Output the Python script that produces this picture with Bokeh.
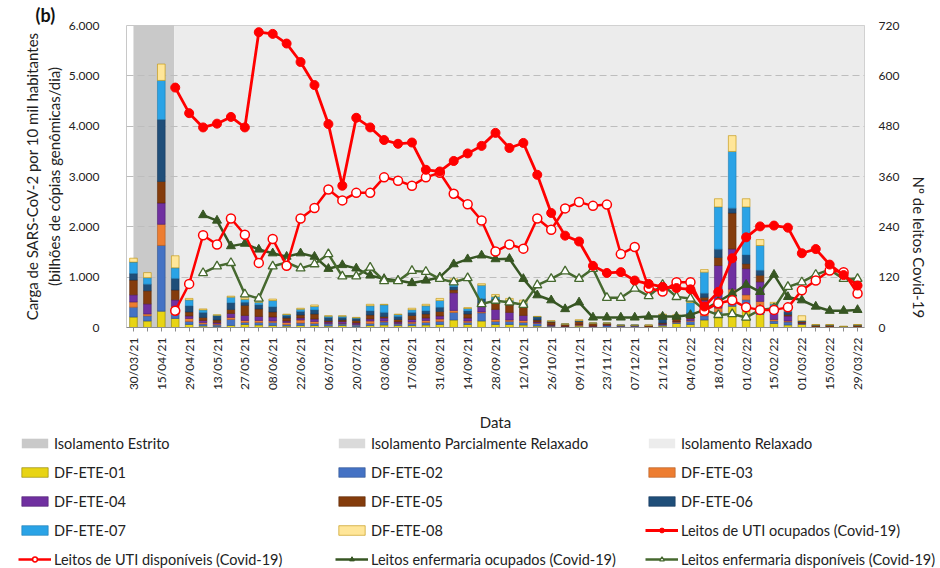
import math
from bokeh.plotting import figure
from bokeh.models import (Range1d, LinearAxis, FixedTicker, Legend, LegendItem,
                          ColumnDataSource)
from bokeh.layouts import column
from bokeh.embed import file_html
from bokeh.resources import INLINE

nan = float("nan")

# ---------------- data ----------------
amostras = list(range(53))  # weekly samples, 30/03/21 ... 29/03/22
rotulos_datas = ["30/03/21", "15/04/21", "29/04/21", "13/05/21", "27/05/21", "08/06/21",
                 "22/06/21", "06/07/21", "20/07/21", "03/08/21", "17/08/21", "31/08/21",
                 "14/09/21", "28/09/21", "12/10/21", "26/10/21", "09/11/21", "23/11/21",
                 "07/12/21", "21/12/21", "04/01/22", "18/01/22", "01/02/22", "15/02/22",
                 "01/03/22", "15/03/22", "29/03/22"]
amostras_rotuladas = amostras[::2]

ete01 = [208, 130, 325, 180, 60, 30, 20, 40, 60, 50, 40, 30, 40, 40, 30, 40, 20, 40, 50, 40,
         40, 50, 60, 150, 60, 130, 60, 60, 50, 30, 20, 10, 30, 10, 10, 0, 0, 10, 30, 80,
         60, 150, 227, 420, 390, 260, 80, 50, 60, 10, 10, 5, 10]
ete02 = [195, 100, 1305, 80, 60, 40, 30, 120, 40, 50, 60, 30, 50, 40, 40, 30, 30, 40, 60, 30,
         40, 50, 60, 150, 40, 160, 60, 60, 50, 50, 10, 5, 10, 10, 30, 35, 35, 0, 20, 20,
         60, 80, 80, 220, 160, 162, 50, 60, 10, 0, 0, 0, 0]
ete03 = [104, 40, 421, 160, 60, 30, 20, 40, 40, 40, 30, 40, 60, 40, 10, 10, 10, 50, 20, 10,
         30, 40, 50, 40, 30, 20, 40, 30, 40, 10, 10, 5, 10, 5, 5, 0, 0, 0, 10, 10,
         20, 60, 80, 120, 100, 97, 30, 20, 10, 0, 0, 0, 0]
ete04 = [143, 200, 423, 130, 50, 40, 30, 80, 100, 80, 80, 30, 40, 50, 30, 40, 30, 40, 60, 30,
         50, 50, 60, 350, 60, 140, 200, 150, 100, 20, 10, 5, 10, 5, 5, 0, 0, 0, 10, 10,
         40, 250, 844, 800, 520, 390, 150, 100, 10, 0, 0, 0, 0]
ete05 = [292, 260, 429, 195, 80, 60, 50, 80, 200, 150, 100, 60, 60, 100, 30, 30, 50, 80, 30, 50,
         80, 80, 90, 60, 80, 30, 150, 150, 180, 40, 60, 37, 60, 51, 31, 10, 10, 32, 20, 60,
         30, 60, 162, 714, 97, 130, 60, 30, 30, 40, 40, 15, 40]
ete06 = [130, 130, 1227, 230, 120, 100, 80, 130, 60, 80, 100, 50, 70, 80, 60, 50, 40, 80, 80, 60,
         60, 60, 80, 60, 60, 90, 60, 60, 40, 60, 10, 5, 10, 5, 5, 0, 0, 0, 160, 30,
         80, 80, 162, 97, 175, 97, 60, 50, 10, 0, 0, 0, 0]
ete07 = [227, 130, 779, 210, 118, 50, 13, 113, 60, 50, 125, 16, 43, 68, 24, 24, 11, 101, 151, 36,
         53, 101, 138, 100, 46, 270, 40, 28, 20, 6, 6, 0, 6, 0, 0, 0, 0, 0, 6, 23,
         206, 420, 841, 1127, 954, 494, 40, 21, 4, 0, 0, 0, 0]
ete08 = [78, 100, 325, 240, 30, 20, 10, 20, 30, 26, 30, 10, 20, 30, 10, 10, 10, 30, 10, 10,
         30, 30, 40, 58, 20, 30, 46, 40, 65, 5, 10, 5, 20, 5, 5, 0, 0, 10, 10, 20,
         30, 50, 162, 314, 162, 117, 30, 20, 100, 8, 8, 5, 8]

uti_ocupados = [nan, nan, nan, 572, 511, 477, 486, 502, 477, 704, 700, 677, 633, 578, 485, 338,
                500, 477, 447, 438, 441, 376, 372, 397, 415, 433, 464, 428, 440, 364, 273, 219,
                205, 147, 130, 132, 112, 104, 97, 94, 91, 50, 85, 165, 215, 241, 243, 238, 177,
                187, 150, 125, 100]
uti_disponiveis = [nan, nan, nan, 40, 104, 220, 198, 260, 221, 154, 211, 147, 260, 285, 329, 303,
                   321, 321, 358, 350, 338, 358, 369, 319, 294, 255, 181, 198, 188, 260, 233, 284,
                   299, 290, 293, 175, 192, 94, 86, 108, 108, 40, 58, 65, 48, 42, 42, 48, 89,
                   112, 136, 132, 81]
enf_ocupados = [nan, nan, nan, nan, nan, 268, 255, 194, 200, 186, 177, 169, 177, 169, 140, 149,
                141, 124, 116, 112, 106, 112, 120, 151, 163, 172, 163, 164, 116, 77, 65, 44,
                60, 24, 24, 24, 24, 26, 26, 26, 30, 42, 62, 81, 102, 85, 126, 73, 65,
                50, 40, 40, 42]
enf_disponiveis = [nan, nan, nan, nan, nan, 130, 146, 154, 79, 69, 146, 155, 141, 151, 175, 122,
                   122, 143, 111, 111, 135, 133, 116, 108, 118, 56, 64, 60, 54, 101, 116, 134,
                   116, 140, 71, 71, 93, 75, 102, 73, 69, 42, 30, 32, 24, 42, 46, 97, 108,
                   126, 138, 116, 116]

# isolation phases (sample-index boundaries); the partially relaxed phase has zero length
fases = ["Isolamento Estrito", "Isolamento Parcialmente Relaxado", "Isolamento Relaxado"]
fase_inicio = [0.0, 2.92, 2.92]
fase_fim = [2.92, 2.92, 52.5]

carga_ticks = [0, 1000, 2000, 3000, 4000, 5000, 6000]
leitos_ticks = [0, 120, 240, 360, 480, 600, 720]

# ---------------- styling ----------------
FONT = "Lato"
TXT = "#222222"
ete_nomes = ["DF-ETE-01", "DF-ETE-02", "DF-ETE-03", "DF-ETE-04",
             "DF-ETE-05", "DF-ETE-06", "DF-ETE-07", "DF-ETE-08"]
ete_series = [ete01, ete02, ete03, ete04, ete05, ete06, ete07, ete08]
ete_cores = ["#e8d414", "#4472c4", "#ed7d31", "#7030a0",
             "#843c0c", "#1f4e79", "#2aa3e6", "#ffe699"]
ete_bordas = ["#8a7d00", "#2f528f", "#ae5a21", "#4b1f6f",
              "#5e2a08", "#15365a", "#1b7ab0", "#bf9000"]
fase_cores = ["#c9c9c9", "#dadada", "#ececec"]
verde_esc = "#375623"
verde_cl = "#46692f"
vermelho = "#ff0000"
linhas = [  # (label, data, colour, marker, fill, width, marker line width)
    ("Leitos de UTI ocupados (Covid-19)", uti_ocupados, vermelho, "circle", vermelho, 2.8, 1),
    ("Leitos de UTI disponíveis (Covid-19)", uti_disponiveis, vermelho, "circle", "white", 2.5, 1.5),
    ("Leitos enfermaria ocupados (Covid-19)", enf_ocupados, verde_esc, "triangle", verde_esc, 2.5, 1),
    ("Leitos enfermaria disponíveis (Covid-19)", enf_disponiveis, verde_cl, "triangle", "white", 2.5, 1.3),
]


def draw_all(fig, yname, visible=True):
    fr = [fig.quad(left=[a], right=[b], bottom=[carga_ticks[0]], top=[carga_ticks[-1]],
                   fill_color=c, line_color=None, level="underlay", visible=visible)
          for a, b, c in zip(fase_inicio, fase_fim, fase_cores)]
    src = ColumnDataSource(dict(x=amostras, **dict(zip(ete_nomes, ete_series))))
    br = fig.vbar_stack(ete_nomes, x="x", width=0.55, source=src, fill_color=ete_cores,
                        line_color=ete_bordas, line_width=0.6, visible=visible)
    lr = {}
    for lab, ys, cor, mk, fill, lw, mlw in [linhas[2], linhas[3], linhas[1], linhas[0]]:
        rl = fig.line(amostras, ys, line_color=cor, line_width=lw, y_range_name=yname,
                      visible=visible)
        rm = fig.scatter(amostras, ys, marker=mk, size=9, fill_color=fill, line_color=cor,
                         line_width=mlw, y_range_name=yname, visible=visible)
        lr[lab] = [rl, rm]
    return fr, br, lr


p = figure(width=940, height=434, output_backend="svg", toolbar_location=None,
           x_range=Range1d(-0.5, 52.5), y_range=Range1d(carga_ticks[0], carga_ticks[-1]),
           min_border_left=126, min_border_right=71, min_border_top=25, min_border_bottom=101,
           background_fill_color="white", outline_line_color="#c8c8c8")
p.extra_y_ranges = {"leitos": Range1d(leitos_ticks[0], leitos_ticks[-1])}
p.frame_align = False

p.title.text = "(b)"
p.title.align = "left"
p.title.offset = -91
p.title.text_font = FONT
p.title.text_font_size = "18px"
p.title.text_font_style = "bold"
p.title.text_color = "#111111"
p.title.standoff = 0

draw_all(p, "leitos")

# ---------------- axes ----------------
xa = p.xaxis[0]
xa.ticker = FixedTicker(ticks=amostras_rotuladas, minor_ticks=amostras[1::2])
xa.major_label_overrides = {k: v for k, v in zip(amostras_rotuladas, rotulos_datas)}
xa.major_label_orientation = math.pi / 2
xa.major_label_text_font = FONT
xa.major_label_text_font_size = "12px"
xa.major_label_text_color = TXT
xa.major_label_standoff = 6
xa.major_tick_out = 4
xa.major_tick_in = 0
xa.minor_tick_out = 4
xa.minor_tick_in = 0
xa.major_tick_line_color = "#8c8c8c"
xa.minor_tick_line_color = "#8c8c8c"
xa.axis_line_color = "#8c8c8c"
xa.axis_label = "Data"
xa.axis_label_text_font = FONT
xa.axis_label_text_font_size = "15px"
xa.axis_label_text_font_style = "normal"
xa.axis_label_text_color = TXT
xa.axis_label_standoff = 20

ya = p.yaxis[0]
ya.ticker = FixedTicker(ticks=carga_ticks)
ya.major_label_overrides = {v: f"{v:,}".replace(",", ".") for v in carga_ticks}
ya.major_label_text_font = FONT
ya.major_label_text_font_size = "12px"
ya.major_label_text_color = TXT
ya.major_tick_out = 0
ya.major_tick_in = 0
ya.minor_tick_out = 0
ya.minor_tick_in = 0
ya.axis_line_color = None
ya.major_label_standoff = 27
ya.axis_label = "Carga de SARS-CoV-2 por 10 mil habitantes\n(bilhões de cópias genômicas/dia)"
ya.axis_label_text_font = FONT
ya.axis_label_text_font_size = "15px"
ya.axis_label_text_font_style = "normal"
ya.axis_label_text_color = TXT
ya.axis_label_standoff = 3

yr = LinearAxis(y_range_name="leitos", ticker=FixedTicker(ticks=leitos_ticks),
                axis_label="Nº de leitos Covid-19")
yr.major_label_text_font = FONT
yr.major_label_text_font_size = "12px"
yr.major_label_text_color = TXT
yr.major_tick_out = 0
yr.major_tick_in = 0
yr.minor_tick_out = 0
yr.minor_tick_in = 0
yr.axis_line_color = None
yr.major_label_standoff = 14
yr.axis_label_text_font = FONT
yr.axis_label_text_font_size = "15px"
yr.axis_label_text_font_style = "normal"
yr.axis_label_text_color = TXT
yr.axis_label_standoff = 17
yr.axis_label_orientation = -math.pi / 2
p.add_layout(yr, "right")

p.xgrid.visible = False
p.ygrid.ticker = FixedTicker(ticks=carga_ticks)
p.ygrid.grid_line_color = "#bdbdbd"
p.ygrid.grid_line_dash = "7 4"
p.ygrid.grid_line_width = 1

# ---------------- legend strip (same series, hidden, only their legend glyphs show) ----
lf = figure(width=940, height=134, output_backend="svg", toolbar_location=None,
            x_range=Range1d(-0.5, 52.5), y_range=Range1d(carga_ticks[0], carga_ticks[-1]),
            x_axis_type=None, y_axis_type=None,
            min_border=0, min_border_left=0, min_border_right=0, min_border_top=0,
            min_border_bottom=0, outline_line_color=None, background_fill_color="white")
lf.extra_y_ranges = {"leitos": Range1d(leitos_ticks[0], leitos_ticks[-1])}
lf.frame_align = False
lfr, lbr, llr = draw_all(lf, "leitos", visible=False)

col1 = [LegendItem(label=fases[0], renderers=[lfr[0]]),
        LegendItem(label=ete_nomes[0], renderers=[lbr[0]]),
        LegendItem(label=ete_nomes[3], renderers=[lbr[3]]),
        LegendItem(label=ete_nomes[6], renderers=[lbr[6]]),
        LegendItem(label=linhas[1][0], renderers=llr[linhas[1][0]])]
col2 = [LegendItem(label=fases[1], renderers=[lfr[1]]),
        LegendItem(label=ete_nomes[1], renderers=[lbr[1]]),
        LegendItem(label=ete_nomes[4], renderers=[lbr[4]]),
        LegendItem(label=ete_nomes[7], renderers=[lbr[7]]),
        LegendItem(label=linhas[2][0], renderers=llr[linhas[2][0]])]
col3 = [LegendItem(label=fases[2], renderers=[lfr[2]]),
        LegendItem(label=ete_nomes[2], renderers=[lbr[2]]),
        LegendItem(label=ete_nomes[5], renderers=[lbr[5]]),
        LegendItem(label=linhas[0][0], renderers=llr[linhas[0][0]]),
        LegendItem(label=linhas[3][0], renderers=llr[linhas[3][0]])]

for items, xpos in zip([col1, col2, col3], [18, 335, 645]):
    lg = Legend(items=items, location=(xpos, 0), orientation="vertical",
                label_text_font=FONT, label_text_font_size="14.5px", label_text_color=TXT,
                glyph_width=33, glyph_height=12, label_height=18, label_standoff=3,
                spacing=11, padding=0, margin=0, border_line_color=None,
                background_fill_alpha=0, inactive_fill_alpha=0)
    lf.add_layout(lg)

open("out.html", "w").write(file_html(column(p, lf), INLINE))
